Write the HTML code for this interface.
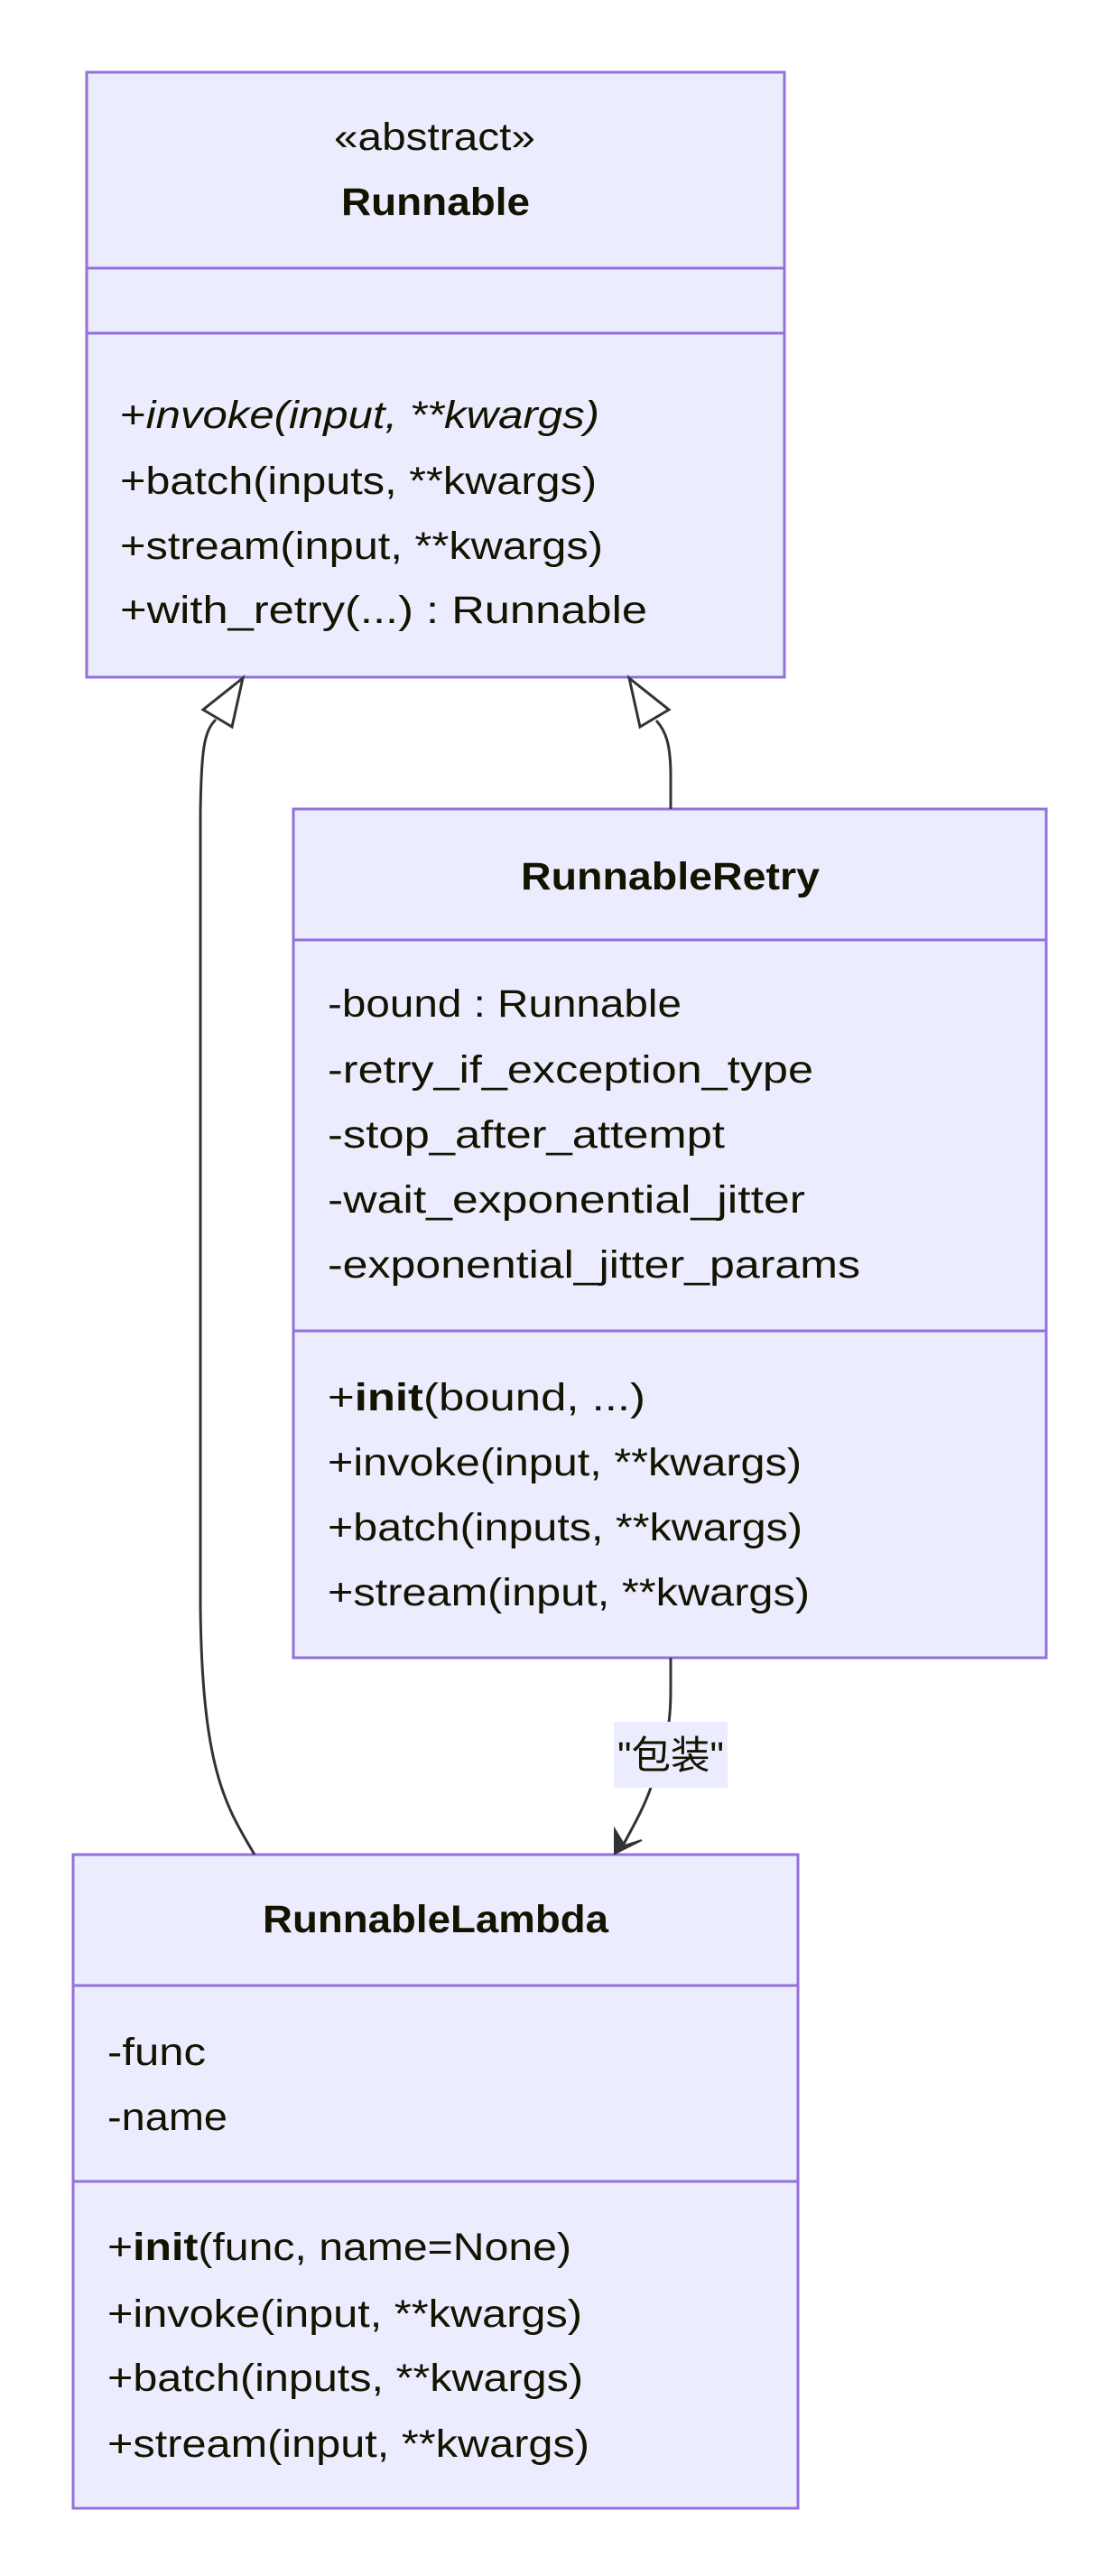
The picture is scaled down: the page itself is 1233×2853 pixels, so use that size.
<!DOCTYPE html>
<html><head><meta charset="utf-8"><style>
html,body{margin:0;padding:0;background:#fff;}
svg{display:block;}
text{font-family:"Liberation Sans","Noto Sans CJK SC",sans-serif;font-size:43px;fill:#131300;}
.b{font-weight:bold;}
</style></head><body>
<svg width="1233" height="2853" viewBox="0 0 1233 2853" xmlns="http://www.w3.org/2000/svg">
<g fill="#ECECFF" stroke="#9370DB" stroke-width="3">
<rect x="96" y="80" width="773" height="670"/>
<line x1="96" y1="297" x2="869" y2="297"/>
<line x1="96" y1="369" x2="869" y2="369"/>
<rect x="325" y="896" width="834" height="940"/>
<line x1="325" y1="1041" x2="1159" y2="1041"/>
<line x1="325" y1="1474" x2="1159" y2="1474"/>
<rect x="81" y="2054" width="803" height="724"/>
<line x1="81" y1="2199" x2="884" y2="2199"/>
<line x1="81" y1="2416" x2="884" y2="2416"/>
</g>
<g fill="none" stroke="#333" stroke-width="3">
<path d="M239,797 C226,810 223,830 222,900 L222,1780 C224,1960 250,2000 282,2054"/>
<path d="M743,896 L743,860 C743,825 738,810 727,798"/>
<path d="M743,1836 L743,1870 C743,1890 742,1900 741,1907"/>
<path d="M721,1980 C712,2005 700,2025 688,2048"/>
</g>
<polygon points="269,751 225,786 257,805" fill="#fff" stroke="#333" stroke-width="3"/>
<polygon points="697,751 741,786 709,805" fill="#fff" stroke="#333" stroke-width="3"/>
<polygon points="681,2053 681,2026 692,2044 711,2038" fill="#333" stroke="#333" stroke-width="2"/>
<rect x="680" y="1907" width="126" height="73" fill="#ECECFF"/>
<text x="743" y="1959" text-anchor="middle" font-size="46" textLength="118" lengthAdjust="spacingAndGlyphs">"包装"</text>

<text x="370" y="166" textLength="223" lengthAdjust="spacingAndGlyphs">«abstract»</text>
<text x="378" y="238" class="b" textLength="209" lengthAdjust="spacingAndGlyphs">Runnable</text>
<text x="133" y="474" textLength="531" lengthAdjust="spacingAndGlyphs">+<tspan font-style="italic">invoke(input, **kwargs)</tspan></text>
<text x="133" y="547" textLength="528" lengthAdjust="spacingAndGlyphs">+batch(inputs, **kwargs)</text>
<text x="133" y="619" textLength="535" lengthAdjust="spacingAndGlyphs">+stream(input, **kwargs)</text>
<text x="133" y="690" textLength="584" lengthAdjust="spacingAndGlyphs">+with_retry(...) : Runnable</text>

<text x="577" y="985" class="b" textLength="331" lengthAdjust="spacingAndGlyphs">RunnableRetry</text>
<text x="363" y="1126" textLength="392" lengthAdjust="spacingAndGlyphs">-bound : Runnable</text>
<text x="363" y="1199" textLength="538" lengthAdjust="spacingAndGlyphs">-retry_if_exception_type</text>
<text x="363" y="1271" textLength="440" lengthAdjust="spacingAndGlyphs">-stop_after_attempt</text>
<text x="363" y="1343" textLength="529" lengthAdjust="spacingAndGlyphs">-wait_exponential_jitter</text>
<text x="363" y="1415" textLength="590" lengthAdjust="spacingAndGlyphs">-exponential_jitter_params</text>
<text x="363" y="1562" textLength="352" lengthAdjust="spacingAndGlyphs">+<tspan class="b">init</tspan>(bound, ...)</text>
<text x="363" y="1634" textLength="525" lengthAdjust="spacingAndGlyphs">+invoke(input, **kwargs)</text>
<text x="363" y="1706" textLength="526" lengthAdjust="spacingAndGlyphs">+batch(inputs, **kwargs)</text>
<text x="363" y="1778" textLength="534" lengthAdjust="spacingAndGlyphs">+stream(input, **kwargs)</text>

<text x="291" y="2140" class="b" textLength="383" lengthAdjust="spacingAndGlyphs">RunnableLambda</text>
<text x="119" y="2287" textLength="109" lengthAdjust="spacingAndGlyphs">-func</text>
<text x="119" y="2359" textLength="133" lengthAdjust="spacingAndGlyphs">-name</text>
<text x="119" y="2503" textLength="514" lengthAdjust="spacingAndGlyphs">+<tspan class="b">init</tspan>(func, name=None)</text>
<text x="119" y="2577" textLength="526" lengthAdjust="spacingAndGlyphs">+invoke(input, **kwargs)</text>
<text x="119" y="2648" textLength="527" lengthAdjust="spacingAndGlyphs">+batch(inputs, **kwargs)</text>
<text x="119" y="2721" textLength="534" lengthAdjust="spacingAndGlyphs">+stream(input, **kwargs)</text>
</svg>
</body></html>
